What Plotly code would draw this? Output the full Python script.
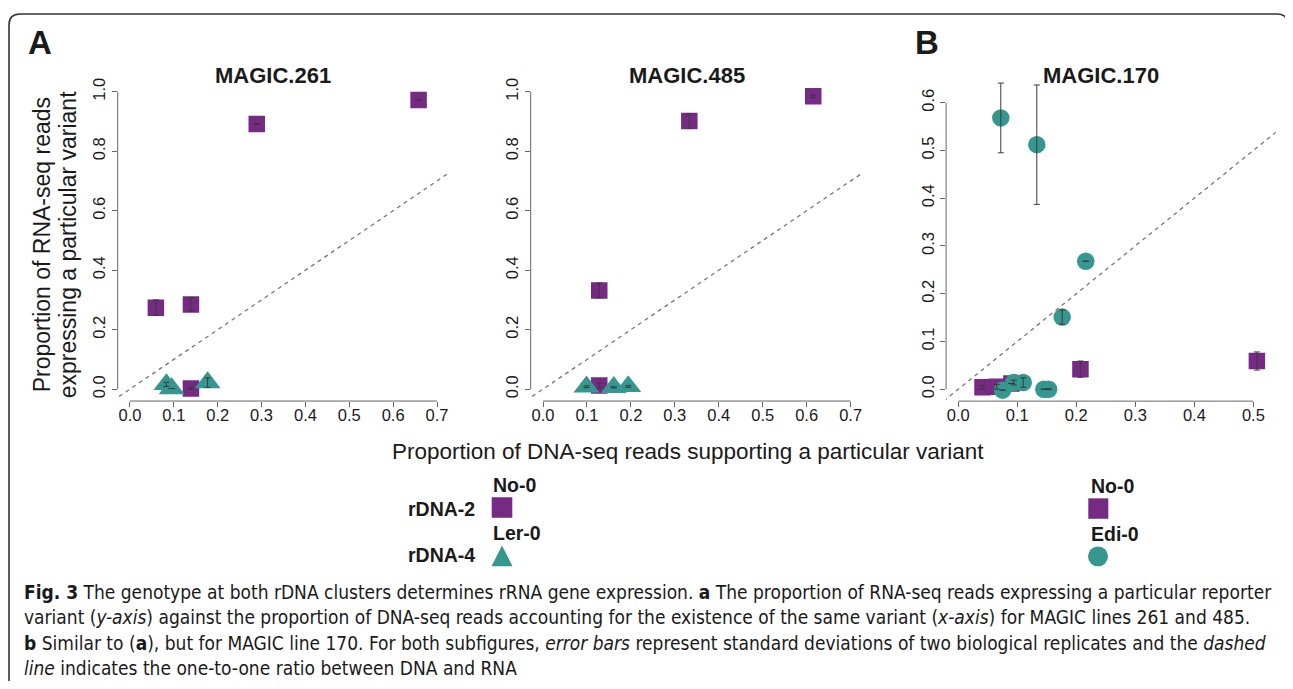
import plotly.graph_objects as go

# ---------------- data ----------------
# MAGIC.261
m261_no0_x = [0.059, 0.139, 0.289, 0.658, 0.139]
m261_no0_y = [0.274, 0.285, 0.892, 0.972, 0.002]
m261_no0_sd = [0.026, 0.023, 0.002, 0.002, 0.002]
m261_ler0_x = [0.083, 0.095, 0.177]
m261_ler0_y = [0.016, 0.002, 0.022]
m261_ler0_sd = [0.007, 0.0, 0.016]

# MAGIC.485
m485_no0_x = [0.128, 0.333, 0.615, 0.128]
m485_no0_y = [0.332, 0.902, 0.985, 0.012]
m485_no0_sd = [0.025, 0.024, 0.004, 0.008]
m485_ler0_x = [0.099, 0.161, 0.194]
m485_ler0_y = [0.008, 0.006, 0.009]
m485_ler0_sd = [0.003, 0.002, 0.003]

# MAGIC.170
m170_no0_x = [0.041, 0.065, 0.090, 0.207, 0.506]
m170_no0_y = [0.004, 0.005, 0.012, 0.042, 0.059]
m170_no0_sd = [0.004, 0.005, 0.0, 0.017, 0.019]
m170_edi0_x = [0.075, 0.072, 0.133, 0.216, 0.176, 0.094, 0.110, 0.145, 0.153]
m170_edi0_y = [-0.002, 0.568, 0.512, 0.268, 0.151, 0.014, 0.014, 0.0, 0.0]
m170_edi0_sd = [0.0, 0.073, 0.125, 0.0, 0.015, 0.005, 0.010, 0.0, 0.001]

panel_titles = ["MAGIC.261", "MAGIC.485", "MAGIC.170"]
xticks_a = [0.0, 0.1, 0.2, 0.3, 0.4, 0.5, 0.6, 0.7]
yticks_a = [0.0, 0.2, 0.4, 0.6, 0.8, 1.0]
xticks_b = [0.0, 0.1, 0.2, 0.3, 0.4, 0.5]
yticks_b = [0.0, 0.1, 0.2, 0.3, 0.4, 0.5, 0.6]

PURPLE = "#762A83"
TEAL = "#35978F"
ERR = "#3a3a3a"
AXC = "#666666"
TXT = "#1a1a1a"
FONT = "Liberation Sans, Arial, Helvetica, sans-serif"
CAPFONT = "Liberation Sans Narrow, DejaVu Sans Condensed, Roboto Condensed, Liberation Sans, sans-serif"

# ---------------- page geometry ----------------
W, H = 1293, 689
OFF = 8  # default body margin of the html page
FW, FH = W - 2 * OFF, H - 2 * OFF


def px(X):
    return (X - OFF) / FW


def py(Y):
    return 1 - (Y - OFF) / FH


fig = go.Figure()

panels = [
    dict(xs="x", ys="y", no0=(m261_no0_x, m261_no0_y, m261_no0_sd),
         oth=(m261_ler0_x, m261_ler0_y, m261_ler0_sd), sym="triangle-up", osize=22.5),
    dict(xs="x2", ys="y2", no0=(m485_no0_x, m485_no0_y, m485_no0_sd),
         oth=(m485_ler0_x, m485_ler0_y, m485_ler0_sd), sym="triangle-up", osize=22.5),
    dict(xs="x3", ys="y3", no0=(m170_no0_x, m170_no0_y, m170_no0_sd),
         oth=(m170_edi0_x, m170_edi0_y, m170_edi0_sd), sym="circle", osize=17.5),
]

for p in panels:
    nx, ny, nsd = p["no0"]
    ox, oy, osd = p["oth"]
    fig.add_trace(go.Scatter(x=nx, y=ny, mode="markers", xaxis=p["xs"], yaxis=p["ys"],
                             marker=dict(symbol="square", size=16.5, color=PURPLE, line=dict(width=0)),
                             showlegend=False, hoverinfo="skip"))
    fig.add_trace(go.Scatter(x=ox, y=oy, mode="markers", xaxis=p["xs"], yaxis=p["ys"],
                             marker=dict(symbol=p["sym"], size=p["osize"], color=TEAL, line=dict(width=0)),
                             showlegend=False, hoverinfo="skip"))
    # error bars drawn on top of the markers
    for (ex, ey, esd) in [(nx, ny, nsd), (ox, oy, osd)]:
        fig.add_trace(go.Scatter(x=ex, y=ey, mode="markers", xaxis=p["xs"], yaxis=p["ys"],
                                 marker=dict(size=1, color="rgba(0,0,0,0)"),
                                 error_y=dict(type="data", array=esd, color=ERR, thickness=1, width=3),
                                 showlegend=False, hoverinfo="skip"))

# ---------------- axes ----------------
ranges = [
    dict(xr=[-0.028, 0.728], yr=[-0.04, 1.04], xd=[117.7, 449.3], yd=[400.2, 78.1], xt=xticks_a, yt=yticks_a),
    dict(xr=[-0.028, 0.728], yr=[-0.04, 1.04], xd=[530.7, 862.9], yd=[400.2, 78.1], xt=xticks_a, yt=yticks_a),
    dict(xr=[-0.0207, 0.5377], yr=[-0.025, 0.665], xd=[946.1, 1275.6], yd=[400.3, 69.8], xt=xticks_b, yt=yticks_b),
]

shapes = []
for i, r in enumerate(ranges):
    sfx = "" if i == 0 else str(i + 1)
    common = dict(showgrid=False, zeroline=False, showline=False, ticks="outside", ticklen=5,
                  tickwidth=1, tickcolor=AXC, tickfont=dict(family=FONT, size=16.5, color=TXT),
                  fixedrange=True)
    fig.layout["xaxis" + sfx] = dict(domain=[px(r["xd"][0]), px(r["xd"][1])], range=r["xr"],
                                     anchor="y" + sfx, tickvals=r["xt"], ticklabelstandoff=-6,
                                     ticktext=["%.1f" % v for v in r["xt"]], **common)
    fig.layout["yaxis" + sfx] = dict(domain=[py(r["yd"][0]), py(r["yd"][1])], range=r["yr"],
                                     anchor="x" + sfx, tickvals=r["yt"], tickangle=-90,
                                     ticktext=["%.1f" % v for v in r["yt"]], **common)
    xa, ya = "x" + sfx, "y" + sfx
    # R-style axis lines spanning first to last tick
    shapes.append(dict(type="line", xref=xa, yref=ya + " domain", x0=r["xt"][0], x1=r["xt"][-1],
                       y0=0, y1=0, line=dict(color=AXC, width=1)))
    shapes.append(dict(type="line", xref=xa + " domain", yref=ya, x0=0, x1=0,
                       y0=r["yt"][0], y1=r["yt"][-1], line=dict(color=AXC, width=1)))
    # one-to-one dashed line
    lo = min(r["xr"][0], r["yr"][0])
    hi = max(r["xr"][1], r["yr"][1])
    shapes.append(dict(type="line", xref=xa, yref=ya, x0=lo, y0=lo, x1=hi, y1=hi, layer="below",
                       line=dict(color="#777777", width=1.3, dash="4px,4px")))

# border frame with rounded top corners
R = 11
x0b, x1b, y0b, y1b = 9, 1288, 12, 700
path = (f"M {px(x0b)},{py(y1b)} L {px(x0b)},{py(y0b + R)} "
        f"Q {px(x0b)},{py(y0b)} {px(x0b + R)},{py(y0b)} "
        f"L {px(x1b - R)},{py(y0b)} Q {px(x1b)},{py(y0b)} {px(x1b)},{py(y0b + R)} "
        f"L {px(x1b)},{py(y1b)}")
shapes.append(dict(type="path", xref="paper", yref="paper", path=path,
                   line=dict(color="#333333", width=1.6)))

# legend symbols
shapes.append(dict(type="rect", xref="paper", yref="paper", x0=px(491.7), x1=px(512.3),
                   y0=py(517.3), y1=py(496.7), fillcolor=PURPLE, line=dict(width=0)))
shapes.append(dict(type="path", xref="paper", yref="paper",
                   path=f"M {px(502)},{py(545)} L {px(512.5)},{py(566)} L {px(491.5)},{py(566)} Z",
                   fillcolor=TEAL, line=dict(width=0)))
shapes.append(dict(type="rect", xref="paper", yref="paper", x0=px(1088.3), x1=px(1108.3),
                   y0=py(518.3), y1=py(497.8), fillcolor=PURPLE, line=dict(width=0)))
shapes.append(dict(type="circle", xref="paper", yref="paper", x0=px(1088), x1=px(1108),
                   y0=py(566), y1=py(546), fillcolor=TEAL, line=dict(width=0)))

# ---------------- annotations ----------------
ann = []


def text(X, Y, s, size, xanchor="center", bold=False, angle=0, family=FONT):
    ann.append(dict(x=px(X), y=py(Y), xref="paper", yref="paper", text=("<b>%s</b>" % s) if bold else s,
                    showarrow=False, xanchor=xanchor, yanchor="middle", textangle=angle,
                    font=dict(family=family, size=size, color=TXT)))


text(40, 41, "A", 33, bold=True)
text(927, 41, "B", 33, bold=True)
text(272.5, 74, panel_titles[0], 22, bold=True)
text(686.5, 74, panel_titles[1], 22, bold=True)
text(1101, 74, panel_titles[2], 22, bold=True)
text(42, 244, "Proportion of RNA-seq reads", 23, angle=-90)
text(68, 244, "expressing a particular variant", 23, angle=-90)
text(687.5, 451, "Proportion of DNA-seq reads supporting a particular variant", 22.5)

# legends
text(491, 484, "No-0", 19.5, xanchor="left", bold=True)
text(406, 508, "rDNA-2", 19.5, xanchor="left", bold=True)
text(491, 533, "Ler-0", 19.5, xanchor="left", bold=True)
text(406, 555, "rDNA-4", 19.5, xanchor="left", bold=True)
text(1088.5, 485, "No-0", 19.5, xanchor="left", bold=True)
text(1088.5, 534, "Edi-0", 19.5, xanchor="left", bold=True)

# caption
cap = [
    "<b>Fig. 3</b> The genotype at both rDNA clusters determines rRNA gene expression. <b>a</b> The proportion of RNA-seq reads expressing a particular reporter",
    "variant (<i>y-axis</i>) against the proportion of DNA-seq reads accounting for the existence of the same variant (<i>x-axis</i>) for MAGIC lines 261 and 485.",
    "<b>b</b> Similar to (<b>a</b>), but for MAGIC line 170. For both subfigures, <i>error bars</i> represent standard deviations of two biological replicates and the <i>dashed</i>",
    "<i>line</i> indicates the one-to-one ratio between DNA and RNA",
]
for k, line in enumerate(cap):
    text(22, 592 + 25.2 * k, line, 19, xanchor="left", family=CAPFONT)

fig.update_layout(width=FW, height=FH, margin=dict(l=0, r=0, t=0, b=0),
                  paper_bgcolor="white", plot_bgcolor="white",
                  shapes=shapes, annotations=ann, showlegend=False)

fig.write_html("out.html")
